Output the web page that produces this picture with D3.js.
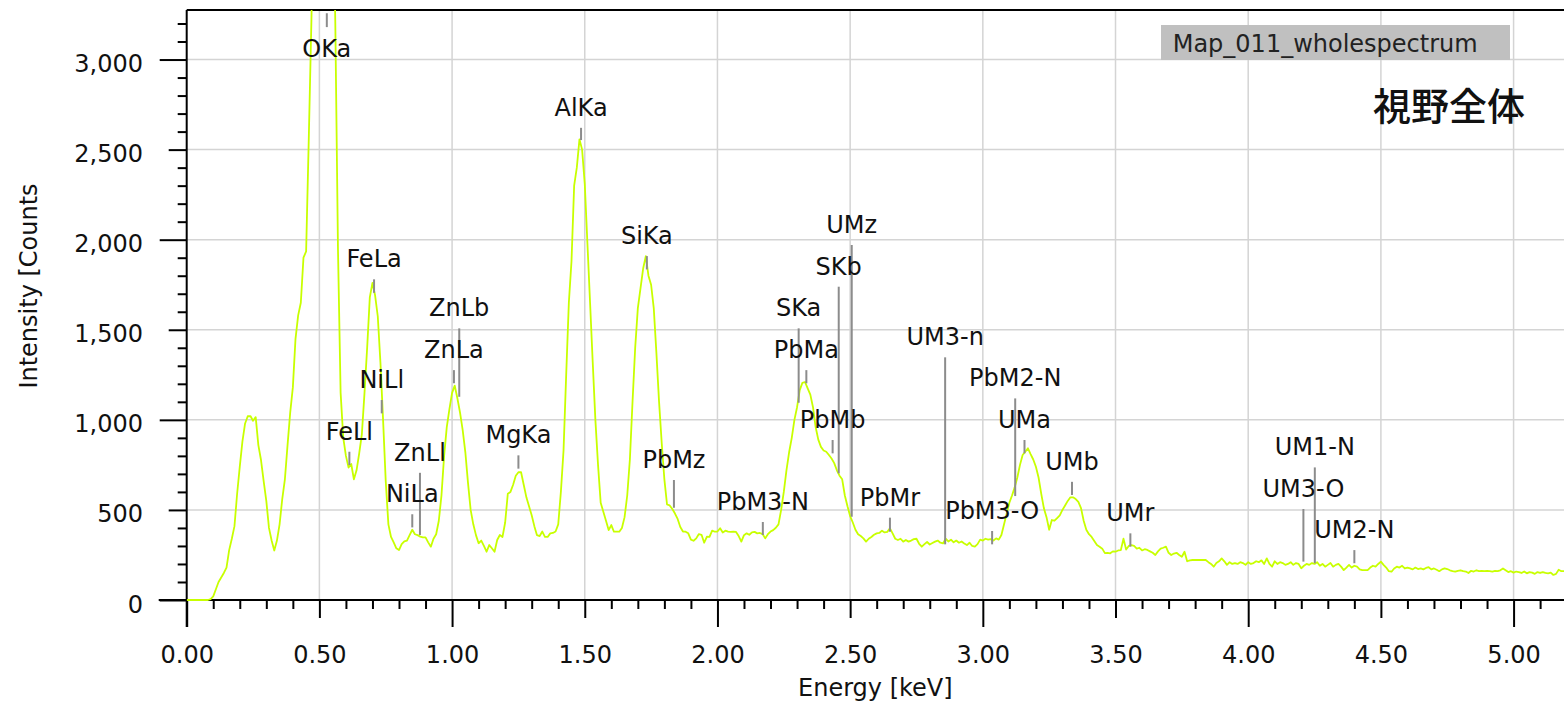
<!DOCTYPE html>
<html>
<head>
<meta charset="utf-8">
<script src="https://cdn.jsdelivr.net/npm/d3@7"></script>
<style>
  html, body { margin: 0; padding: 0; background: #ffffff; }
  svg { display: block; }
  text { font-family: "DejaVu Sans", Verdana, sans-serif; }
</style>
</head>
<body>
<svg id="chart" width="1564" height="704"></svg>
<script>
// ---------- DATA ----------
// Spectrum counts, one channel every 0.01 keV starting at 0.00 keV
const channelStart = 0.0;
const channelWidth = 0.01;
const counts = [
  0, 0, 0, 0, 0, 0, 0, 0, 0, 5,
  20, 60, 100, 125, 150, 180, 277, 340, 410, 590,
  740, 880, 980, 1020, 1021, 995, 1015, 860, 777, 660,
  550, 400, 330, 275, 330, 420, 560, 670, 860, 1040,
  1180, 1450, 1580, 1650, 1900, 1935, 2560, 3220, 4100, 4900,
  5500, 5800, 5900, 5600, 4900, 4100, 3200, 1950, 1150, 900,
  800, 735, 755, 670, 720, 814, 920, 1150, 1400, 1680,
  1760, 1690, 1575, 1320, 1000, 660, 420, 350, 320, 287,
  277, 310, 325, 330, 360, 390, 365, 360, 352, 348,
  348, 320, 296, 340, 365, 440, 580, 800, 960, 1060,
  1150, 1190, 1120, 1040, 943, 820, 650, 500, 420, 360,
  315, 330, 300, 268, 305, 287, 268, 333, 361, 350,
  430, 590, 600, 640, 690, 709, 709, 640, 570, 520,
  470, 410, 360, 355, 380, 350, 350, 370, 372, 380,
  420, 600, 830, 1250, 1650, 1880, 2300, 2400, 2557, 2500,
  2310, 1980, 1650, 1320, 1000, 750, 540, 490, 440, 388,
  416, 379, 379, 379, 400, 460, 580, 780, 1100, 1400,
  1620, 1730, 1840, 1909, 1800, 1750, 1620, 1370, 1100, 870,
  670, 530, 525, 505, 480, 450, 405, 380, 379, 370,
  335, 329, 342, 366, 362, 318, 351, 350, 385, 379,
  380, 398, 375, 385, 380, 378, 380, 378, 355, 324,
  360, 370, 362, 375, 378, 370, 372, 366, 342, 365,
  380, 388, 401, 420, 500, 600, 720, 820, 900, 1000,
  1070, 1165, 1205, 1210, 1175, 1140, 1070, 960, 890, 850,
  830, 823, 805, 785, 760, 720, 690, 670, 580, 520,
  466, 430, 390, 365, 355, 342, 324, 340, 350, 362,
  370, 372, 385, 375, 378, 398, 370, 340, 333, 340,
  324, 333, 324, 330, 338, 340, 312, 296, 310, 322,
  308, 316, 324, 330, 318, 314, 340, 325, 335, 320,
  330, 318, 325, 314, 305, 318, 300, 296, 310, 335,
  330, 340, 335, 338, 330, 342, 335, 361, 420, 480,
  540, 580, 625, 680, 750, 805, 823, 842, 810, 780,
  740, 680, 590, 510, 460, 390, 444, 440, 455, 470,
  500, 525, 550, 570, 570, 560, 545, 510, 440, 390,
  365, 350, 328, 305, 296, 285, 260, 262, 259, 270,
  268, 275, 277, 340, 280, 300, 305, 300, 285, 290,
  275, 282, 278, 270, 262, 250, 270, 285, 290, 296,
  262, 250, 258, 262, 250, 240, 268, 215, 220, 222,
  222, 222, 222, 222, 222, 210, 200, 185, 205, 215,
  231, 215, 195, 210, 200, 205, 200, 210, 205, 195,
  210, 200, 205, 215, 210, 220, 200, 231, 200, 185,
  215, 200, 210, 205, 195, 200, 210, 195, 205, 200,
  176, 190, 200, 195, 205, 200, 210, 190, 200, 185,
  195, 205, 185, 195, 200, 185, 166, 180, 195, 180,
  190, 185, 170, 166, 166, 166, 180, 190, 185, 200,
  213, 195, 180, 160, 157, 175, 185, 180, 190, 175,
  180, 175, 170, 180, 172, 175, 170, 178, 182, 170,
  175, 168, 160, 170, 175, 172, 165, 160, 157, 162,
  165, 160, 158, 150, 162, 158, 165, 160, 162, 160,
  162, 160, 158, 162, 160, 165, 175, 165, 155, 160,
  152, 158, 155, 150, 158, 148, 155, 152, 145, 155,
  150, 155, 150, 148, 152, 139, 145, 168, 160, 160
];

// Element line markers
const markerNames  = ["OKa","FeLl","FeLa","NiLl","NiLa","ZnLl","ZnLa","ZnLb","MgKa","AlKa","SiKa","PbMz","PbM3-N","SKa","PbMa","PbMb","SKb","UMz","PbMr","UM3-n","PbM3-O","PbM2-N","UMa","UMb","UMr","UM3-O","UM1-N","UM2-N"];
const markerEnergy = [0.528, 0.613, 0.706, 0.735, 0.850, 0.879, 1.007, 1.027, 1.250, 1.486, 1.734, 1.836, 2.171, 2.306, 2.335, 2.434, 2.457, 2.506, 2.650, 2.858, 3.035, 3.122, 3.157, 3.336, 3.556, 4.208, 4.251, 4.400];
const markerTop    = [3257, 823, 1780, 1110, 476, 706, 1276, 1508, 803, 2621, 1909, 666, 433, 1508, 1276, 888, 1739, 1970, 457, 1347, 383, 1119, 888, 656, 370, 505, 736, 277];
const markerBottom = [3180, 749, 1705, 1036, 403, 361, 1203, 1128, 729, 2553, 1835, 512, 361, 1095, 1203, 814, 703, 462, 379, 309, 309, 577, 814, 583, 296, 213, 204, 204];

// Axis ticks
const xLabelTicks = [0, 0.5, 1, 1.5, 2, 2.5, 3, 3.5, 4, 4.5, 5];
const yLabelTicks = [0, 500, 1000, 1500, 2000, 2500, 3000];
const xDomain = [0, 5.19];
const yDomain = [0, 3275];

const xTitle = "Energy [keV]";
const yTitle = "Intensity [Counts";
const legendText = "Map_011_wholespectrum";
const noteText = "視野全体";

// ---------- DRAWING ----------
(function draw() {
const svg = d3.select("#chart");
const pL = 186.7, pR = 1564, pT = 10, pB = 600;

const x = d3.scaleLinear().domain(xDomain).range([pL, pR]);
const y = d3.scaleLinear().domain(yDomain).range([pB, pT]);

const xMinor = d3.range(0, 52).map(i => i / 10).filter(v => v <= xDomain[1] && Math.abs(v * 2 - Math.round(v * 2)) > 1e-6);
const xHalf = xLabelTicks.filter(v => Math.abs(v - Math.round(v)) > 1e-6);
const xInt = xLabelTicks.filter(v => Math.abs(v - Math.round(v)) < 1e-6);
const yMinor = d3.range(0, 33).map(i => i * 100).filter(v => v % 500 !== 0 && v <= yDomain[1]);
const yHalf = yLabelTicks.filter(v => v % 1000 !== 0);
const yInt = yLabelTicks.filter(v => v % 1000 === 0);

// gridlines
const grid = svg.append("g").attr("stroke", "#d4d4d4").attr("stroke-width", 1.5);
grid.selectAll(".gx").data(xLabelTicks.filter(v => v > 0)).join("line").attr("class", "gx")
  .attr("x1", d => x(d)).attr("x2", d => x(d)).attr("y1", pT).attr("y2", pB);
grid.selectAll(".gy").data(yLabelTicks.filter(v => v > 0)).join("line").attr("class", "gy")
  .attr("x1", pL).attr("x2", pR).attr("y1", d => y(d)).attr("y2", d => y(d));

// clip
svg.append("clipPath").attr("id", "plotclip").append("rect")
  .attr("x", pL).attr("y", pT).attr("width", pR - pL).attr("height", pB - pT + 3);

// axes (ticks)
function tickAxis(axis, vals, size) {
  return axis.tickValues(vals).tickSize(size).tickSizeOuter(0).tickFormat("");
}
const xg = svg.append("g").attr("transform", `translate(0,${pB})`);
xg.append("g").call(tickAxis(d3.axisBottom(x), xMinor, 9));
xg.append("g").call(tickAxis(d3.axisBottom(x), xHalf, 18));
xg.append("g").call(tickAxis(d3.axisBottom(x), xInt, 27));
xg.append("g").call(d3.axisBottom(x).tickValues(xLabelTicks).tickSize(0).tickFormat(d3.format(".2f")))
  .call(g => g.selectAll("text").attr("y", 63).attr("dy", null).attr("font-size", 24).attr("fill", "#111")
    .attr("font-family", "DejaVu Sans"));

const yg = svg.append("g").attr("transform", `translate(${pL},0)`);
yg.append("g").call(tickAxis(d3.axisLeft(y), yMinor, 9));
yg.append("g").call(tickAxis(d3.axisLeft(y), yHalf, 18));
yg.append("g").call(tickAxis(d3.axisLeft(y), yInt, 27));
yg.append("g").call(d3.axisLeft(y).tickValues(yLabelTicks).tickSize(0).tickFormat(d3.format(",")))
  .call(g => g.selectAll("text").attr("x", -(pL - 143)).attr("dy", null).attr("y", 12)
    .attr("font-size", 24).attr("fill", "#111").attr("font-family", "DejaVu Sans"));

svg.selectAll(".domain").remove();
svg.selectAll(".tick line").attr("stroke", "#000").attr("stroke-width", 2);

// axis lines and top frame
svg.append("line").attr("x1", pL - 28).attr("x2", pR).attr("y1", pB).attr("y2", pB)
  .attr("stroke", "#000").attr("stroke-width", 2);
svg.append("line").attr("x1", pL).attr("x2", pL).attr("y1", pT).attr("y2", pB + 27)
  .attr("stroke", "#000").attr("stroke-width", 2);
svg.append("line").attr("x1", pL).attr("x2", pR).attr("y1", pT).attr("y2", pT)
  .attr("stroke", "#000").attr("stroke-width", 2);

// spectrum (drawn above the axis line, like the original)
const pts = counts.map((c, i) => [channelStart + i * channelWidth, c]);
const line = d3.line().x(d => x(d[0])).y(d => y(d[1]));
svg.append("path").datum(pts)
  .attr("clip-path", "url(#plotclip)")
  .attr("fill", "none")
  .attr("stroke", "#c8ff00")
  .attr("stroke-width", 1.8)
  .attr("stroke-linejoin", "round")
  .attr("d", line);

// markers (on top of the spectrum)
const markers = markerNames.map((n, i) => ({ name: n, e: markerEnergy[i], top: markerTop[i], bot: markerBottom[i] }));
const mg = svg.append("g");
mg.selectAll("line").data(markers).join("line")
  .attr("x1", d => x(d.e)).attr("x2", d => x(d.e))
  .attr("y1", d => y(d.top)).attr("y2", d => y(d.bot))
  .attr("stroke", "#8c8c8c").attr("stroke-width", 2);
mg.selectAll("text").data(markers).join("text")
  .attr("x", d => x(d.e))
  .attr("y", d => {
    const above = y(d.top) - 12;
    return (above - 18 < pT) ? y(d.bot) + 30 : above;
  })
  .attr("text-anchor", "middle")
  .attr("font-size", 24)
  .attr("fill", "#111")
  .text(d => d.name);

// axis titles
svg.append("text").attr("x", (pL + pR) / 2).attr("y", 696)
  .attr("text-anchor", "middle").attr("font-size", 24).attr("fill", "#111").text(xTitle);
svg.append("text").attr("transform", "translate(37,286) rotate(-90)")
  .attr("text-anchor", "middle").attr("font-size", 24).attr("fill", "#111").text(yTitle);

// legend box
svg.append("rect").attr("x", 1161).attr("y", 25).attr("width", 349).attr("height", 35).attr("fill", "#c0c0c0");
svg.append("text").attr("x", 1172.7).attr("y", 52).attr("font-size", 24).attr("fill", "#222").text(legendText);

// note
svg.append("text").attr("x", 1525).attr("y", 120).attr("text-anchor", "end")
  .attr("font-size", 38).attr("fill", "#111")
  .style("font-family", '"Noto Sans CJK JP", "Noto Sans CJK SC", sans-serif')
  .attr("font-weight", 500)
  .text(noteText);
})();
</script>
</body>
</html>
